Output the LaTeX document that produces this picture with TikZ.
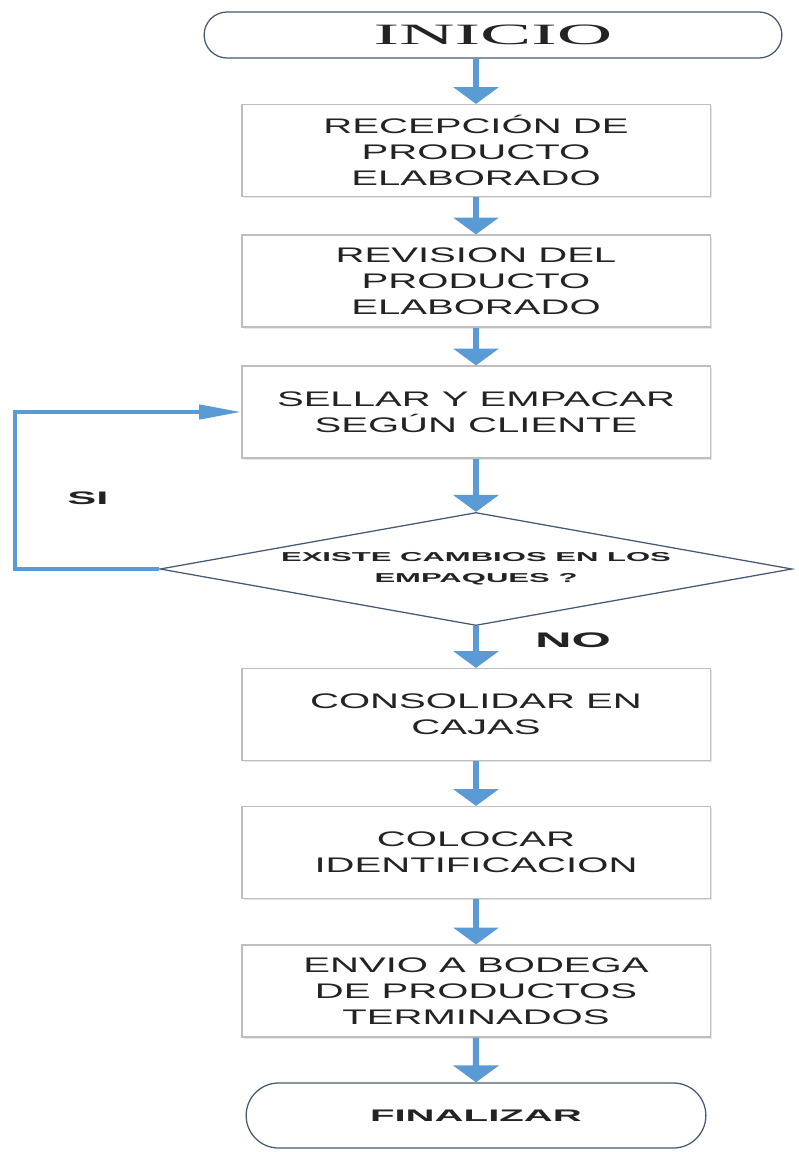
\documentclass[tikz,border=0pt]{standalone}
\usepackage{fontspec}
\usetikzlibrary{shapes.geometric,shapes.misc,arrows.meta,shadows}
\newfontfamily\cajafont[FakeStretch=1.9]{Liberation Sans}
\newfontfamily\iniciofont[FakeStretch=2.6]{Liberation Serif}
\newfontfamily\etiqfont[FakeStretch=2.4]{Liberation Sans}
\definecolor{azulflecha}{RGB}{91,155,213}
\definecolor{bordecaja}{RGB}{190,190,190}
\definecolor{bordeoval}{RGB}{70,90,115}
\definecolor{texto}{RGB}{35,35,35}

\begin{document}
\begin{tikzpicture}[x=0.025cm,y=-0.025cm,
    caja/.style={draw=bordecaja, line width=0.8pt, fill=white, text=texto,
        drop shadow={shadow xshift=1.2pt, shadow yshift=-1.2pt, opacity=0.2},
        minimum width=11.7cm, minimum height=2.3cm, align=center,
        font=\cajafont\fontsize{15}{18.5}\selectfont},
    oval/.style={rounded rectangle, draw=bordeoval, line width=0.9pt, fill=white, text=texto},
    decision/.style={diamond, draw=bordeoval, line width=0.9pt, fill=white, text=texto,
        minimum width=15.8cm, minimum height=2.825cm, inner sep=0pt, shape aspect=5.6,
        align=center, font=\etiqfont\bfseries\fontsize{9.2}{12}\selectfont},
    etiq/.style={text=texto, font=\etiqfont\bfseries\fontsize{12.9}{14}\selectfont},
    flecha/.style={draw=azulflecha, line width=4.5pt, -{Triangle[length=12pt,width=32pt]}},
    lazo/.style={draw=azulflecha, line width=3pt, -{Triangle[length=30pt,width=10pt]}}]
    \useasboundingbox (0,0) rectangle (798,1152);

    \node[oval, minimum width=14.675cm, minimum height=1.15cm,
        font=\iniciofont\fontsize{21}{22}\selectfont] (inicio) at (493,35) {INICIO};
    \node[caja] (recep) at (476,150.5) {RECEPCIÓN DE\\PRODUCTO\\ELABORADO};
    \node[caja] (revis) at (476,281) {REVISION DEL\\PRODUCTO\\ELABORADO};
    \node[caja] (sellar) at (476,412) {SELLAR Y EMPACAR\\SEGÚN CLIENTE};
    \node[decision] (dec) at (476,569) {EXISTE CAMBIOS EN LOS\\[3pt]EMPAQUES ?};
    \node[caja] (consol) at (476,714.5) {CONSOLIDAR EN\\CAJAS};
    \node[caja] (coloc) at (476,852.5) {COLOCAR\\IDENTIFICACION};
    \node[caja] (envio) at (476,991) {ENVIO A BODEGA\\DE PRODUCTOS\\TERMINADOS};
    \node[oval, minimum width=11.725cm, minimum height=1.625cm,
        font=\etiqfont\bfseries\fontsize{11.9}{13}\selectfont] (fin) at (476,1115.5) {FINALIZAR};

    \draw[flecha] (inicio.south -| recep) -- (recep);
    \foreach \a/\b in {recep/revis, revis/sellar, sellar/dec, dec/consol,
        consol/coloc, coloc/envio, envio/fin}
        \draw[flecha] (\a) -- (\b);

    \coordinate (esq) at (15,412);
    \draw[lazo] (dec.west) -| (esq) -- (sellar.west);
    \node[etiq] (si) at (88,498) {SI};
    \node[etiq, font=\etiqfont\bfseries\fontsize{15}{16}\selectfont] (no) at (573,640) {NO};
\end{tikzpicture}
\end{document}
